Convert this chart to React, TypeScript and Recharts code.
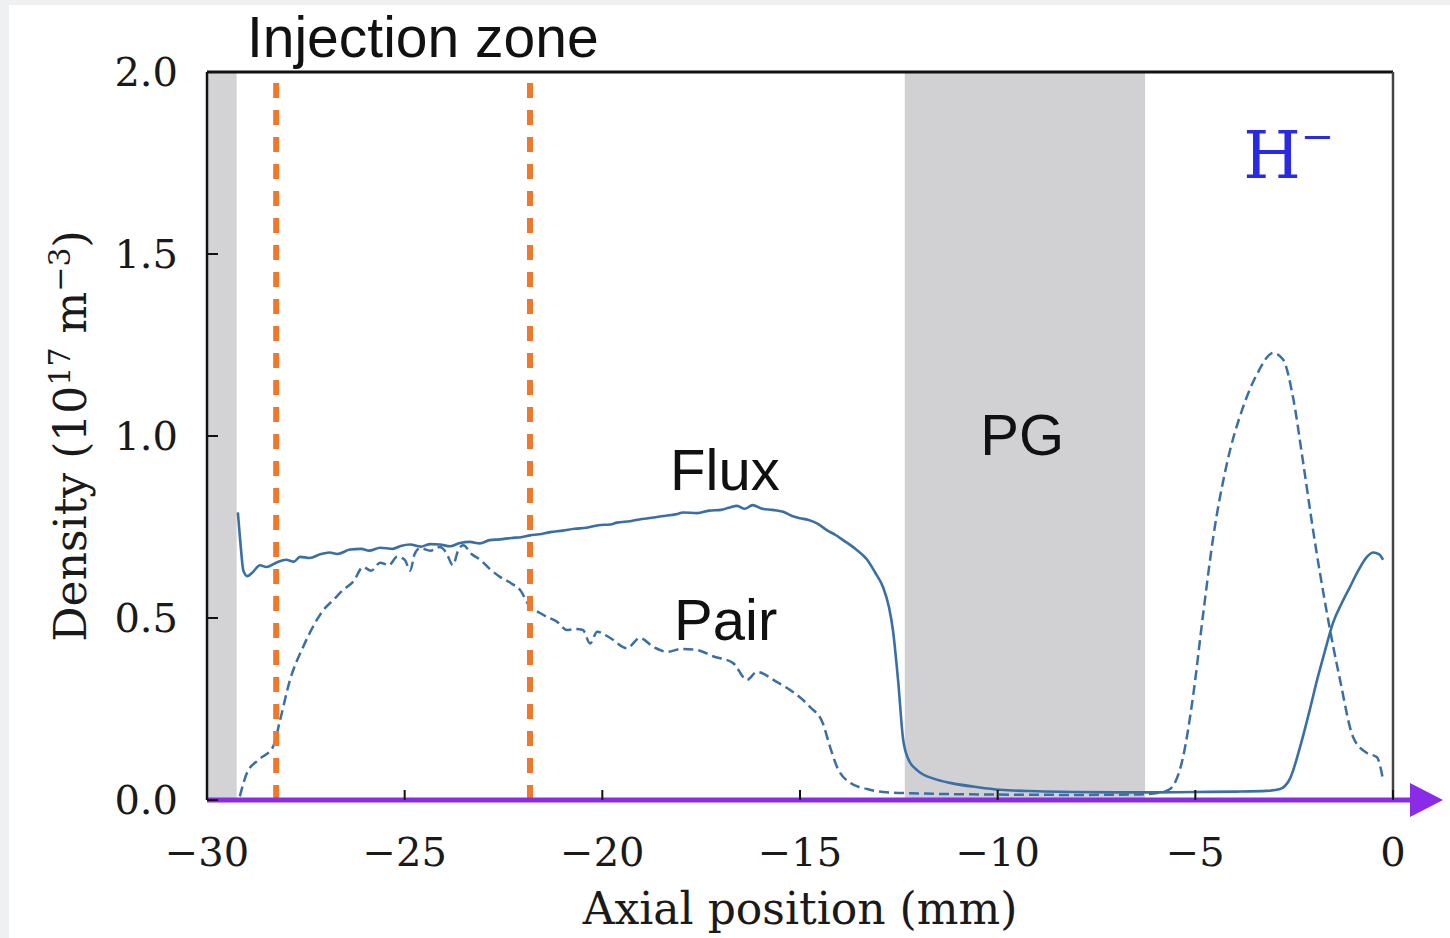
import React from "react";
import {
  LineChart,
  Line,
  XAxis,
  YAxis,
  ReferenceArea,
  ReferenceLine,
  ReferenceDot,
} from "recharts";

// axial position (mm) and density (1e17 m^-3)
const fluxX = [
  -29.22, -29.15, -29.08, -28.98, -28.85, -28.66, -28.5, -28.25, -28.0, -27.8,
  -27.65, -27.4, -27.14, -26.9, -26.7, -26.38, -26.1, -25.9, -25.62, -25.3,
  -25.1, -24.86, -24.6, -24.35, -24.11, -23.85, -23.6, -23.35, -23.1, -22.85,
  -22.59, -22.3, -22.05, -21.83, -21.6, -21.32, -21.0, -20.7, -20.4, -20.1,
  -19.8, -19.63, -19.3, -19.0, -18.7, -18.4, -18.1, -17.96, -17.6, -17.3,
  -17.0, -16.8, -16.59, -16.4, -16.2, -15.95, -15.7, -15.43, -15.2, -15.0,
  -14.8, -14.57, -14.3, -14.1, -13.91, -13.6, -13.3, -13.1, -12.9, -12.75,
  -12.65, -12.52, -12.39, -12.25, -12.04, -11.6, -11.2, -10.5, -9.94, -9.0,
  -8.0, -7.0, -6.0, -5.0, -4.0, -3.2, -2.86, -2.6, -2.35, -2.1,
  -1.92, -1.72, -1.52, -1.3, -1.09, -0.88, -0.66, -0.5, -0.35, -0.25,
];
const fluxY = [
  0.79, 0.7, 0.63, 0.615, 0.625, 0.645, 0.64, 0.652, 0.66, 0.655,
  0.668, 0.665, 0.675, 0.68, 0.676, 0.688, 0.69, 0.685, 0.693, 0.69,
  0.698, 0.702, 0.696, 0.703, 0.702, 0.697, 0.706, 0.709, 0.705, 0.714,
  0.716, 0.72, 0.722, 0.727, 0.73, 0.736, 0.74, 0.745, 0.748, 0.755,
  0.757, 0.762, 0.766, 0.772, 0.776, 0.781, 0.786, 0.79, 0.788, 0.795,
  0.797, 0.803, 0.808, 0.8, 0.81, 0.8, 0.797, 0.792, 0.78, 0.774,
  0.77, 0.76, 0.74, 0.728, 0.714, 0.69, 0.66, 0.625, 0.585, 0.53,
  0.467, 0.33, 0.165, 0.11, 0.082, 0.058, 0.047, 0.035, 0.028, 0.024,
  0.022, 0.021, 0.021, 0.022, 0.023, 0.025, 0.03, 0.06, 0.146, 0.25,
  0.33, 0.41, 0.486, 0.54, 0.585, 0.63, 0.668, 0.68, 0.675, 0.66,
];

const pairX = [
  -29.17, -28.99, -28.7, -28.33, -28.15, -27.9, -27.57, -27.3, -27.07, -26.8,
  -26.56, -26.3, -26.05, -25.85, -25.62, -25.4, -25.19, -25.0, -24.86, -24.75,
  -24.61, -24.35, -24.11, -23.95, -23.78, -23.65, -23.52, -23.3, -23.09, -22.85,
  -22.59, -22.3, -22.08, -21.83, -21.6, -21.4, -21.15, -20.89, -20.7, -20.49,
  -20.31, -20.13, -19.8, -19.38, -19.05, -18.7, -18.36, -18.0, -17.6, -17.2,
  -16.69, -16.34, -16.09, -15.6, -15.18, -14.75, -14.42, -14.24, -14.06, -13.73,
  -13.3, -12.9, -12.0, -10.0, -8.0, -6.5, -5.9, -5.64, -5.31, -5.06,
  -4.8, -4.55, -4.2, -3.79, -3.44, -3.03, -2.78, -2.53, -2.27, -2.02,
  -1.67, -1.34, -1.01, -0.66, -0.41, -0.25,
];
const pairY = [
  0.01, 0.074, 0.11, 0.146, 0.22, 0.33, 0.42, 0.48, 0.52, 0.55,
  0.577, 0.6, 0.64, 0.63, 0.652, 0.645, 0.668, 0.66, 0.63, 0.675,
  0.692, 0.685, 0.695, 0.68, 0.645, 0.685, 0.7, 0.675, 0.66, 0.635,
  0.613, 0.595, 0.577, 0.53, 0.515, 0.503, 0.49, 0.467, 0.47, 0.467,
  0.43, 0.462, 0.445, 0.417, 0.445, 0.42, 0.407, 0.415, 0.412, 0.395,
  0.376, 0.33, 0.352, 0.325, 0.297, 0.256, 0.21, 0.146, 0.09, 0.047,
  0.03, 0.022, 0.018, 0.015, 0.014, 0.015, 0.02, 0.03, 0.118, 0.283,
  0.513, 0.72, 0.925, 1.08, 1.17, 1.228, 1.21, 1.107, 0.925, 0.74,
  0.513, 0.33, 0.173, 0.129, 0.118, 0.055,
];

const xTicks = [-30, -25, -20, -15, -10, -5, 0];
const yTicks = [0, 0.5, 1.0, 1.5, 2.0];
const injectionBounds = [-28.25, -21.83];
const wallBand = [-30, -29.25];
const pgBand = [-12.35, -6.27];

const fluxData = fluxX.map((x, i) => ({ x, y: fluxY[i] }));
const pairData = pairX.map((x, i) => ({ x, y: pairY[i] }));

const SERIF = "'DejaVu Serif', serif";
const SANS = "'Liberation Sans', Arial, sans-serif";
const LINE_COLOR = "#3a6fa6";

const fmtMinus = (v: number) => (v < 0 ? `\u2212${Math.abs(v)}` : `${v}`);

const XTick = (props: any) => {
  const { x, y, payload } = props;
  return (
    <g>
      <line x1={x} y1={y} x2={x} y2={y - 10} stroke="#111" strokeWidth={2} />
      <text x={x} y={y + 66} textAnchor="middle" fontFamily={SERIF} fontSize={40} fill="#1a1a1a">
        {fmtMinus(payload.value)}
      </text>
    </g>
  );
};

const YTick = (props: any) => {
  const { x, y, payload } = props;
  return (
    <g>
      <line x1={x} y1={y} x2={x + 11} y2={y} stroke="#111" strokeWidth={2} />
      <text x={x - 29} y={y + 14} textAnchor="end" fontFamily={SERIF} fontSize={40} fill="#1a1a1a">
        {Number(payload.value).toFixed(1)}
      </text>
    </g>
  );
};

const textDot = (label: string, size: number, anchor: "start" | "middle" = "middle") =>
  (p: any) => (
    <text x={p.cx} y={p.cy} textAnchor={anchor} fontFamily={SANS} fontSize={size} fill="#111">
      {label}
    </text>
  );

export default function App() {
  return (
    <div style={{ position: "absolute", left: 0, top: 0, width: 1450, height: 938, background: "#eff0f2" }}>
      <div style={{ position: "absolute", left: 9, top: 5, width: 1441, height: 933, background: "#fff" }} />
      <div style={{ position: "absolute", left: 0, top: 0 }}>
        <LineChart width={1450} height={938} margin={{ top: 72, right: 57, bottom: 0, left: 0 }}>
          <XAxis
            dataKey="x"
            type="number"
            domain={[-30, 0]}
            ticks={xTicks}
            allowDataOverflow
            axisLine={false}
            tickLine={false}
            tickSize={0}
            tickMargin={0}
            height={138}
            tick={<XTick />}
            label={{
              content: (p: any) => (
                <text
                  x={p.viewBox.x + p.viewBox.width / 2}
                  y={p.viewBox.y + 124}
                  textAnchor="middle"
                  fontFamily={SERIF}
                  fontSize={44}
                  fill="#1a1a1a"
                >
                  Axial position (mm)
                </text>
              ),
            }}
          />
          <YAxis
            dataKey="y"
            type="number"
            domain={[0, 2]}
            ticks={yTicks}
            allowDataOverflow
            width={207}
            axisLine={{ stroke: "#111", strokeWidth: 2.5 }}
            tickLine={false}
            tickSize={0}
            tickMargin={0}
            tick={<YTick />}
            label={{
              content: (p: any) => {
                const cy = p.viewBox.y + p.viewBox.height / 2;
                return (
                  <text
                    transform={`translate(86, ${cy}) rotate(-90)`}
                    textAnchor="middle"
                    fontFamily={SERIF}
                    fontSize={44}
                    fill="#1a1a1a"
                  >
                    Density (10
                    <tspan dy={-16} fontSize={30}>17</tspan>
                    <tspan dy={16}> m</tspan>
                    <tspan dy={-16} fontSize={30}>{"\u22123"}</tspan>
                    <tspan dy={16}>)</tspan>
                  </text>
                );
              },
            }}
          />

          <ReferenceArea x1={wallBand[0]} x2={wallBand[1]} y1={0} y2={2} fill="#d3d3d6" fillOpacity={1} stroke="none" />
          <ReferenceArea x1={pgBand[0]} x2={pgBand[1]} y1={0} y2={2} fill="#d1d1d4" fillOpacity={1} stroke="none" />

          <ReferenceLine y={2} stroke="#111" strokeWidth={3} />
          <ReferenceLine x={0} stroke="#444" strokeWidth={2.5} />

          <Line
            data={pairData}
            dataKey="y"
            type="monotone"
            stroke={LINE_COLOR}
            strokeWidth={2.5}
            strokeDasharray="10 5"
            dot={false}
            isAnimationActive={false}
          />
          <Line
            data={fluxData}
            dataKey="y"
            type="monotone"
            stroke={LINE_COLOR}
            strokeWidth={2.6}
            dot={false}
            isAnimationActive={false}
          />

          {injectionBounds.map((v) => (
            <ReferenceLine key={v} x={v} stroke="#f0782a" strokeWidth={6} strokeDasharray="15 12" />
          ))}

          <ReferenceLine
            y={0}
            shape={(p: any) => (
              <g>
                <line x1={p.x1} y1={p.y1} x2={p.x2 + 20} y2={p.y2} stroke="#8a2be8" strokeWidth={5} />
                <polygon
                  points={`${p.x2 + 17},${p.y2 - 17} ${p.x2 + 50},${p.y2} ${p.x2 + 17},${p.y2 + 17}`}
                  fill="#8a2be8"
                />
              </g>
            )}
          />

          <ReferenceDot x={-16.9} y={0.852} r={0} ifOverflow="visible" shape={textDot("Flux", 58)} />
          <ReferenceDot x={-16.88} y={0.44} r={0} ifOverflow="visible" shape={textDot("Pair", 58)} />
          <ReferenceDot x={-9.38} y={0.948} r={0} ifOverflow="visible" shape={textDot("PG", 58)} />
          <ReferenceDot
            x={-28.99}
            y={2.041}
            r={0}
            ifOverflow="visible"
            shape={textDot("Injection zone", 57, "start")}
          />
          <ReferenceDot
            x={-3.79}
            y={1.709}
            r={0}
            ifOverflow="visible"
            shape={(p: any) => (
              <text x={p.cx} y={p.cy} fontFamily={SERIF} fontSize={66} fill="#2a2ae6">
                H
                <tspan dy={-28} fontSize={40}>{"\u2212"}</tspan>
              </text>
            )}
          />
        </LineChart>
      </div>
    </div>
  );
}
